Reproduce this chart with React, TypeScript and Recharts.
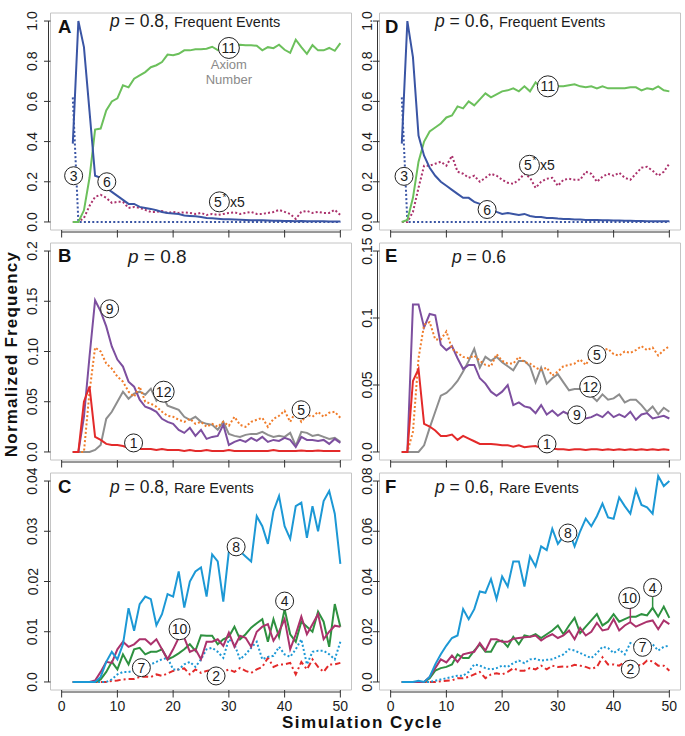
import React from "react"
import {
  LineChart,
  Line,
  XAxis,
  YAxis,
  ReferenceArea,
  ReferenceLine,
  ReferenceDot,
} from "recharts"

// simulation cycles on the x axis
const cycles = [
  2, 3, 4, 5, 6, 7, 8, 9, 10, 11, 12, 13, 14, 15, 16, 17, 18, 19, 20, 21, 22, 23, 24, 25, 26,
  27, 28, 29, 30, 31, 32, 33, 34, 35, 36, 37, 38, 39, 40, 41, 42, 43, 44, 45, 46, 47, 48, 49, 50,
]
const xTicks = [0, 10, 20, 30, 40, 50]

// panel A (p = 0.8, frequent events)
const a3 = [
  0.62, 0, 0, 0, 0, 0, 0, 0, 0, 0, 0, 0, 0, 0, 0, 0, 0, 0, 0, 0, 0, 0, 0, 0, 0,
  0, 0, 0, 0, 0, 0, 0, 0, 0, 0, 0, 0, 0, 0, 0, 0, 0, 0, 0, 0, 0, 0, 0, 0,
]
const a6 = [
  0.39, 1.0, 0.87, 0.55, 0.23, 0.22, 0.17, 0.15, 0.13, 0.11,
  0.09, 0.09, 0.075, 0.07, 0.065, 0.058, 0.05, 0.045, 0.042, 0.04,
  0.032, 0.03, 0.028, 0.025, 0.02, 0.018, 0.016, 0.014, 0.013, 0.012,
  0.011, 0.01, 0.009, 0.008, 0.008, 0.007, 0.006, 0.006, 0.005, 0.005,
  0.004, 0.005, 0.004, 0.003, 0.003, 0.003, 0.002, 0.002, 0.002,
]
const a11 = [
  0, 0, 0.058, 0.22, 0.46, 0.465, 0.555, 0.6, 0.615, 0.68,
  0.67, 0.713, 0.73, 0.746, 0.77, 0.78, 0.796, 0.833, 0.83, 0.837,
  0.854, 0.854, 0.86, 0.86, 0.862, 0.872, 0.855, 0.87, 0.875, 0.878,
  0.882, 0.88, 0.88, 0.877, 0.854, 0.87, 0.865, 0.882, 0.857, 0.842,
  0.907, 0.87, 0.837, 0.88, 0.854, 0.854, 0.866, 0.852, 0.89,
]
const a5 = [
  0, 0, 0.02, 0.08, 0.125, 0.135, 0.12, 0.095, 0.1, 0.1,
  0.07, 0.075, 0.07, 0.06, 0.05, 0.05, 0.055, 0.045, 0.05, 0.045,
  0.048, 0.045, 0.04, 0.045, 0.035, 0.04, 0.035, 0.04, 0.045, 0.048,
  0.04, 0.045, 0.05, 0.04, 0.04, 0.045, 0.05, 0.06, 0.05, 0.04,
  0.015, 0.05, 0.055, 0.045, 0.05, 0.045, 0.045, 0.06, 0.035,
]

// panel D (p = 0.6, frequent events)
const d3 = [
  0.62, 0, 0, 0, 0, 0, 0, 0, 0, 0, 0, 0, 0, 0, 0, 0, 0, 0, 0, 0, 0, 0, 0, 0, 0,
  0, 0, 0, 0, 0, 0, 0, 0, 0, 0, 0, 0, 0, 0, 0, 0, 0, 0, 0, 0, 0, 0, 0, 0,
]
const d6 = [
  0.39, 1.0, 0.82, 0.43, 0.33, 0.27, 0.23, 0.2, 0.18, 0.16,
  0.14, 0.12, 0.12, 0.1, 0.09, 0.075, 0.065, 0.05, 0.04, 0.045,
  0.04, 0.035, 0.04, 0.03, 0.025, 0.025, 0.02, 0.02, 0.017, 0.015,
  0.015, 0.012, 0.012, 0.01, 0.01, 0.01, 0.008, 0.008, 0.007, 0.007,
  0.006, 0.006, 0.005, 0.005, 0.004, 0.004, 0.004, 0.003, 0.003,
]
const d11 = [
  0, 0.01, 0.12, 0.3, 0.4, 0.45, 0.47, 0.49, 0.52, 0.53,
  0.575, 0.565, 0.6, 0.58, 0.61, 0.64, 0.62, 0.635, 0.65, 0.655,
  0.665, 0.65, 0.675, 0.65, 0.695, 0.665, 0.675, 0.675, 0.675, 0.675,
  0.68, 0.685, 0.675, 0.67, 0.675, 0.665, 0.675, 0.665, 0.665, 0.665,
  0.665, 0.67, 0.67, 0.655, 0.665, 0.66, 0.675, 0.655, 0.65,
]
const d5 = [
  0, 0, 0.05, 0.17, 0.28, 0.28, 0.29, 0.3, 0.28, 0.33,
  0.25, 0.24, 0.22, 0.23, 0.2, 0.22, 0.24, 0.23, 0.21, 0.195,
  0.19, 0.21, 0.24, 0.22, 0.17, 0.2, 0.215, 0.22, 0.18, 0.21,
  0.215, 0.21, 0.21, 0.25, 0.24, 0.2, 0.225, 0.24, 0.23, 0.245,
  0.22, 0.21, 0.24, 0.27, 0.275, 0.255, 0.23, 0.25, 0.29,
]

// panel B (p = 0.8)
const b1 = [
  0, 0, 0.05, 0.065, 0.015, 0.012, 0.008, 0.007, 0.007, 0.006,
  0.004, 0.004, 0.003, 0.003, 0.003, 0.002, 0.003, 0.002, 0.002, 0.002,
  0.001, 0.002, 0.001, 0.001, 0.002, 0.001, 0.001, 0.001, 0.002, 0.001,
  0.001, 0.001, 0.001, 0.001, 0.001, 0.001, 0.002, 0.001, 0.001, 0.001,
  0.001, 0.0015, 0.001, 0.001, 0.0015, 0.001, 0.001, 0.001, 0.001,
]
const b9 = [
  0, 0, 0.035, 0.095, 0.151, 0.14, 0.125, 0.105, 0.092, 0.085,
  0.07, 0.065, 0.052, 0.045, 0.043, 0.04, 0.033, 0.03, 0.028, 0.022,
  0.019, 0.024, 0.016, 0.022, 0.013, 0.015, 0.016, 0.027, 0.007, 0.01,
  0.012, 0.01, 0.014, 0.011, 0.015, 0.01, 0.012, 0.011, 0.014, 0.012,
  0.005, 0.015, 0.012, 0.012, 0.011, 0.012, 0.008, 0.013, 0.009,
]
const b12 = [
  0, 0, 0, 0, 0.002, 0.007, 0.033, 0.04, 0.05, 0.06,
  0.053, 0.058, 0.06, 0.057, 0.063, 0.051, 0.057, 0.046, 0.044, 0.042,
  0.035, 0.032, 0.035, 0.03, 0.028, 0.027, 0.022, 0.03, 0.018, 0.016,
  0.015, 0.017, 0.018, 0.018, 0.02, 0.017, 0.015, 0.016, 0.015, 0.019,
  0.006, 0.02, 0.019, 0.016, 0.017, 0.015, 0.013, 0.014, 0.01,
]
const b5 = [
  0, 0, 0, 0.06, 0.104, 0.1, 0.088, 0.083, 0.075, 0.07,
  0.06, 0.055, 0.065, 0.05, 0.048, 0.045, 0.04, 0.036, 0.035, 0.032,
  0.03, 0.033, 0.028, 0.03, 0.025, 0.028, 0.025, 0.03, 0.026, 0.035,
  0.027, 0.025, 0.03, 0.032, 0.034, 0.025, 0.033, 0.036, 0.041, 0.03,
  0.04, 0.03, 0.037, 0.035, 0.04, 0.035, 0.039, 0.04, 0.034,
]

// panel E (p = 0.6)
const e1 = [
  0, 0, 0.053, 0.062, 0.021, 0.019, 0.016, 0.012, 0.012, 0.013,
  0.009, 0.012, 0.01, 0.008, 0.006, 0.006, 0.006, 0.0055, 0.005, 0.005,
  0.004, 0.005, 0.0035, 0.004, 0.0045, 0.003, 0.003, 0.0025, 0.002, 0.002,
  0.0015, 0.002, 0.002, 0.0015, 0.002, 0.002, 0.0015, 0.002, 0.0015, 0.002,
  0.0015, 0.002, 0.0015, 0.002, 0.0015, 0.002, 0.0015, 0.002, 0.0015,
]
const e9 = [
  0, 0, 0.11, 0.11, 0.093, 0.103, 0.102, 0.08, 0.076, 0.079,
  0.07, 0.062, 0.065, 0.065, 0.055, 0.051, 0.045, 0.042, 0.045, 0.05,
  0.035, 0.037, 0.034, 0.033, 0.029, 0.035, 0.028, 0.031, 0.027, 0.03,
  0.028, 0.027, 0.026, 0.025, 0.026, 0.028, 0.026, 0.03, 0.026, 0.028,
  0.026, 0.03, 0.024, 0.028, 0.029, 0.025, 0.026, 0.027, 0.025,
]
const e12 = [
  0, 0, 0, 0, 0.005, 0.018, 0.03, 0.042, 0.044, 0.048,
  0.053, 0.06, 0.068, 0.077, 0.063, 0.071, 0.068, 0.071, 0.067, 0.064,
  0.061, 0.068, 0.068, 0.064, 0.052, 0.063, 0.051, 0.055, 0.058, 0.052,
  0.046, 0.047, 0.047, 0.045, 0.042, 0.038, 0.043, 0.039, 0.04, 0.043,
  0.037, 0.039, 0.039, 0.035, 0.03, 0.034, 0.028, 0.033, 0.03,
]
const e5 = [
  0, 0, 0.015, 0.07, 0.095, 0.097, 0.084, 0.084, 0.09, 0.077,
  0.074, 0.071, 0.07, 0.072, 0.068, 0.065, 0.064, 0.073, 0.068, 0.066,
  0.066, 0.071, 0.067, 0.066, 0.063, 0.061, 0.063, 0.057, 0.06, 0.064,
  0.065, 0.066, 0.069, 0.065, 0.072, 0.073, 0.076, 0.077, 0.073, 0.072,
  0.075, 0.074, 0.076, 0.079, 0.076, 0.078, 0.072, 0.076, 0.079,
]

// panel C (p = 0.8, rare events)
const c8 = [
  0, 0, 0, 0, 0, 0.001, 0.004, 0.006, 0.0045, 0.0075,
  0.0147, 0.0102, 0.0155, 0.017, 0.0165, 0.0113, 0.0135, 0.0175, 0.017, 0.022,
  0.0148, 0.02, 0.022, 0.0228, 0.017, 0.0254, 0.024, 0.016, 0.026, 0.027,
  0.026, 0.025, 0.024, 0.033, 0.031, 0.0275, 0.034, 0.037, 0.031, 0.0285,
  0.035, 0.0357, 0.0287, 0.035, 0.03, 0.036, 0.038, 0.0335, 0.0235,
]
const c4 = [
  0, 0, 0, 0, 0, 0.0005, 0.002, 0.004, 0.0025, 0.0055,
  0.0035, 0.0065, 0.0068, 0.0055, 0.006, 0.006, 0.0065, 0.0045, 0.005, 0.0057,
  0.0065, 0.0075, 0.0062, 0.0093, 0.0092, 0.0092, 0.0075, 0.0085, 0.009, 0.011,
  0.0085, 0.0095, 0.0108, 0.0117, 0.0125, 0.008, 0.0125, 0.009, 0.0145, 0.0095,
  0.008, 0.012, 0.011, 0.01, 0.014, 0.012, 0.007, 0.0155, 0.011,
]
const c10 = [
  0, 0, 0, 0, 0.0003, 0.002, 0.004, 0.0038, 0.0065, 0.008,
  0.007, 0.0075, 0.0085, 0.0085, 0.0075, 0.0085, 0.0065, 0.0045, 0.0065, 0.0088,
  0.0088, 0.006, 0.0065, 0.0045, 0.008, 0.008, 0.0085, 0.0072, 0.0098, 0.007,
  0.0092, 0.0088, 0.007, 0.01, 0.011, 0.0115, 0.0082, 0.01, 0.0125, 0.0065,
  0.0095, 0.013, 0.0095, 0.0115, 0.0135, 0.0085, 0.01, 0.0112, 0.011,
]
const c7 = [
  0, 0, 0, 0, 0, 0, 0, 0.0005, 0.0015, 0.002,
  0.002, 0.0022, 0.0025, 0.003, 0.0035, 0.004, 0.0045, 0.0048, 0.0025, 0.0025,
  0.0035, 0.004, 0.003, 0.0045, 0.0065, 0.0068, 0.006, 0.0048, 0.0085, 0.0075,
  0.0045, 0.0055, 0.0068, 0.008, 0.0045, 0.005, 0.0052, 0.007, 0.0055, 0.005,
  0.0065, 0.0085, 0.0035, 0.006, 0.0062, 0.0062, 0.0055, 0.0045, 0.008,
]
const c2 = [
  0, 0, 0, 0, 0, 0, 0, 0.0002, 0.0003, 0.0005,
  0.0006, 0.0006, 0.001, 0.0011, 0.001, 0.0015, 0.0012, 0.0017, 0.0022, 0.0025,
  0.0027, 0.0015, 0.0025, 0.0018, 0.0022, 0.0024, 0.002, 0.002, 0.0025, 0.002,
  0.0028, 0.0022, 0.0018, 0.0025, 0.003, 0.0048, 0.003, 0.0035, 0.0035, 0.0038,
  0.0015, 0.004, 0.0025, 0.0045, 0.003, 0.002, 0.0035, 0.0035, 0.0038,
]

// panel F (p = 0.6, rare events)
const f8 = [
  0, 0, 0, 0.0005, 0, 0.002, 0.007, 0.011, 0.0145, 0.0175,
  0.0185, 0.029, 0.025, 0.029, 0.036, 0.0355, 0.041, 0.033, 0.042, 0.038,
  0.048, 0.048, 0.038, 0.05, 0.046, 0.054, 0.0525, 0.061, 0.055, 0.058,
  0.06, 0.054, 0.06, 0.065, 0.062, 0.066, 0.071, 0.0655, 0.065, 0.0735,
  0.07, 0.067, 0.0765, 0.0705, 0.0695, 0.067, 0.082, 0.078, 0.08,
]
const f4 = [
  0, 0, 0, 0, 0, 0.0015, 0.0045, 0.0055, 0.006, 0.007,
  0.011, 0.0095, 0.0095, 0.0125, 0.015, 0.012, 0.012, 0.016, 0.0165, 0.014,
  0.018, 0.015, 0.0185, 0.018, 0.019, 0.0175, 0.019, 0.0205, 0.0225, 0.019,
  0.0225, 0.0255, 0.0195, 0.022, 0.0245, 0.027, 0.0225, 0.024, 0.027, 0.024,
  0.025, 0.026, 0.026, 0.027, 0.0265, 0.0295, 0.026, 0.03, 0.0255,
]
const f10 = [
  0, 0, 0, 0, 0, 0.002, 0.0055, 0.009, 0.0078, 0.0105,
  0.008, 0.011, 0.0115, 0.012, 0.0155, 0.0125, 0.017, 0.017, 0.016, 0.016,
  0.0172, 0.0175, 0.0178, 0.018, 0.0185, 0.0165, 0.018, 0.019, 0.0175, 0.0185,
  0.0205, 0.017, 0.0215, 0.0185, 0.02, 0.0235, 0.0205, 0.021, 0.025, 0.0205,
  0.0225, 0.0238, 0.022, 0.023, 0.024, 0.0245, 0.021, 0.0245, 0.023,
]
const f7 = [
  0, 0, 0, 0, 0, 0, 0.0005, 0.001, 0.0015, 0.002,
  0.0025, 0.0025, 0.004, 0.007, 0.0065, 0.0055, 0.005, 0.0055, 0.0065, 0.006,
  0.0075, 0.0085, 0.0075, 0.009, 0.0092, 0.0085, 0.0088, 0.009, 0.01, 0.011,
  0.013, 0.0125, 0.0115, 0.0105, 0.0095, 0.0115, 0.014, 0.0135, 0.0115, 0.013,
  0.011, 0.0155, 0.0145, 0.015, 0.016, 0.015, 0.0125, 0.014, 0.0145,
]
const f2 = [
  0, 0, 0, 0, 0, 0, 0, 0.0003, 0.0005, 0.0006,
  0.0015, 0.0015, 0.002, 0.003, 0.004, 0.0015, 0.003, 0.0035, 0.003, 0.004,
  0.0055, 0.0045, 0.0045, 0.0055, 0.005, 0.0065, 0.005, 0.0065, 0.006, 0.0062,
  0.006, 0.0068, 0.0065, 0.006, 0.0052, 0.006, 0.0098, 0.007, 0.007, 0.0065,
  0.008, 0.008, 0.007, 0.0065, 0.0085, 0.0082, 0.0065, 0.0065, 0.0045,
]

// y tick values and their printed labels
const freqTicks = [0, 0.2, 0.4, 0.6, 0.8, 1.0]
const freqLabels = ["0.0", "0.2", "0.4", "0.6", "0.8", "1.0"]
const bTicks = [0, 0.05, 0.1, 0.15, 0.2]
const bLabels = ["0.0", "0.05", "0.10", "0.15", "0.2"]
const eTicks = [0, 0.05, 0.1, 0.15]
const eLabels = ["0.0", "0.05", "0.1", "0.15"]
const cTicks = [0, 0.01, 0.02, 0.03, 0.04]
const cLabels = ["0.0", "0.01", "0.02", "0.03", "0.04"]
const fTicks = [0, 0.02, 0.04, 0.06, 0.08]
const fLabels = ["0.0", "0.02", "0.04", "0.06", "0.08"]

const BLUE = "#3a55a4"
const LIGHT_GREEN = "#6cc05c"
const MAROON = "#ab326c"
const RED = "#e32a2a"
const PURPLE = "#7d4f9f"
const GRAY = "#8e8e8e"
const ORANGE = "#f07c2a"
const SKY = "#1c98d5"
const DARK_GREEN = "#2e9140"
const DOT = "2 2.2"
const DASH_DOT = "6 3 2 3"

interface Series {
  id: string
  values: number[]
  color: string
  dash?: string
}

interface Note {
  x: number
  y: number
  text: string
  star?: boolean
  caption?: boolean
}

interface Leader {
  x: number
  y1: number
  y2: number
  color: string
}

interface PanelDef {
  id: string
  col: number
  row: number
  yDomain: [number, number]
  yTicks: number[]
  yLabels: string[]
  series: Series[]
  notes: Note[]
  leaders?: Leader[]
}

const panels: PanelDef[] = [
  {
    id: "A", col: 0, row: 0, yDomain: [-0.04, 1.04], yTicks: freqTicks, yLabels: freqLabels,
    series: [
      { id: "5", values: a5, color: MAROON, dash: DOT },
      { id: "3", values: a3, color: BLUE, dash: DOT },
      { id: "11", values: a11, color: LIGHT_GREEN },
      { id: "6", values: a6, color: BLUE },
    ],
    notes: [
      { x: 2.15, y: 0.23, text: "3" },
      { x: 8.1, y: 0.2, text: "6" },
      { x: 30, y: 0.866, text: "11", caption: true },
      { x: 28.3, y: 0.1, text: "5", star: true },
    ],
  },
  {
    id: "D", col: 1, row: 0, yDomain: [-0.04, 1.04], yTicks: freqTicks, yLabels: freqLabels,
    series: [
      { id: "5", values: d5, color: MAROON, dash: DOT },
      { id: "3", values: d3, color: BLUE, dash: DOT },
      { id: "11", values: d11, color: LIGHT_GREEN },
      { id: "6", values: d6, color: BLUE },
    ],
    notes: [
      { x: 2.4, y: 0.227, text: "3" },
      { x: 17.3, y: 0.062, text: "6" },
      { x: 28.2, y: 0.675, text: "11" },
      { x: 24.9, y: 0.282, text: "5", star: true },
    ],
  },
  {
    id: "B", col: 0, row: 1, yDomain: [-0.008, 0.208], yTicks: bTicks, yLabels: bLabels,
    series: [
      { id: "12", values: b12, color: GRAY },
      { id: "9", values: b9, color: PURPLE },
      { id: "5", values: b5, color: ORANGE, dash: DOT },
      { id: "1", values: b1, color: RED },
    ],
    notes: [
      { x: 8.6, y: 0.1425, text: "9" },
      { x: 18.3, y: 0.06, text: "12" },
      { x: 12.9, y: 0.009, text: "1" },
      { x: 42.95, y: 0.042, text: "5" },
    ],
  },
  {
    id: "E", col: 1, row: 1, yDomain: [-0.006, 0.156], yTicks: eTicks, yLabels: eLabels,
    series: [
      { id: "12", values: e12, color: GRAY },
      { id: "9", values: e9, color: PURPLE },
      { id: "5", values: e5, color: ORANGE, dash: DOT },
      { id: "1", values: e1, color: RED },
    ],
    notes: [
      { x: 37.0, y: 0.0727, text: "5" },
      { x: 35.8, y: 0.0487, text: "12" },
      { x: 33.4, y: 0.0277, text: "9" },
      { x: 28.05, y: 0.006, text: "1" },
    ],
  },
  {
    id: "C", col: 0, row: 2, yDomain: [-0.0016, 0.0416], yTicks: cTicks, yLabels: cLabels,
    series: [
      { id: "2", values: c2, color: RED, dash: DASH_DOT },
      { id: "7", values: c7, color: SKY, dash: DOT },
      { id: "4", values: c4, color: DARK_GREEN },
      { id: "10", values: c10, color: MAROON },
      { id: "8", values: c8, color: SKY },
    ],
    notes: [
      { x: 31.3, y: 0.0269, text: "8" },
      { x: 40, y: 0.0161, text: "4" },
      { x: 21.15, y: 0.0105, text: "10" },
      { x: 14.3, y: 0.00285, text: "7" },
      { x: 27.7, y: 0.0012, text: "2" },
    ],
  },
  {
    id: "F", col: 1, row: 2, yDomain: [-0.0032, 0.0832], yTicks: fTicks, yLabels: fLabels,
    series: [
      { id: "2", values: f2, color: RED, dash: DASH_DOT },
      { id: "7", values: f7, color: SKY, dash: DOT },
      { id: "4", values: f4, color: DARK_GREEN },
      { id: "10", values: f10, color: MAROON },
      { id: "8", values: f8, color: SKY },
    ],
    notes: [
      { x: 31.8, y: 0.0593, text: "8" },
      { x: 42.8, y: 0.0334, text: "10" },
      { x: 47.0, y: 0.0376, text: "4" },
      { x: 45.2, y: 0.0138, text: "7" },
      { x: 43.0, y: 0.0051, text: "2" },
    ],
    leaders: [
      { x: 43, y1: 0.0296, y2: 0.0238, color: MAROON },
      { x: 47, y1: 0.0338, y2: 0.0295, color: DARK_GREEN },
    ],
  },
]

const titles = [
  { x: 110, y: 27, size: 17.5, p: "0.8", sub: "Frequent Events" },
  { x: 435, y: 27, size: 17.5, p: "0.6", sub: "Frequent Events" },
  { x: 128, y: 263, size: 19, p: "0.8", sub: "" },
  { x: 452, y: 263, size: 17.5, p: "0.6", sub: "" },
  { x: 110, y: 493, size: 17.5, p: "0.8", sub: "Rare Events" },
  { x: 435, y: 493, size: 17.5, p: "0.6", sub: "Rare Events" },
]

const letters = [
  { t: "A", x: 58, y: 33 },
  { t: "D", x: 385, y: 33 },
  { t: "B", x: 58, y: 262 },
  { t: "E", x: 385, y: 262 },
  { t: "C", x: 58, y: 493 },
  { t: "F", x: 385, y: 493 },
]

// layout of the plot boxes (half pixels keep the 1px box crisp)
const BOX_W = 301
const BOX_H = 217
const colLeft = [50.5, 379.5]
const rowTop = [12.5, 242.5, 472.5]
const yAxisW = [50.5, 27.5]
const yTickMargin = [6.5, 1]
const TOP_PAD = 14
const X_MIN = -2
const X_MAX = 52
const PX_X = (X_MAX - X_MIN) / BOX_W

const FONT = "'Liberation Sans', Arial, Helvetica, sans-serif"
const INK = "#1c1c1c"

const toPts = (ys: number[]) => cycles.map((x, i) => ({ x, y: ys[i] }))

const makeYTick = (ticks: number[], labels: string[]) => (props: any) => {
  const { x, y, payload } = props
  const i = ticks.findIndex(t => Math.abs(t - payload.value) < 1e-9)
  return (
    <text
      x={x}
      y={y}
      transform={`rotate(-90 ${x} ${y})`}
      textAnchor="middle"
      fontSize={14}
      fill={INK}
    >
      {i >= 0 ? labels[i] : ""}
    </text>
  )
}

const makeXTick = (show: boolean) => (props: any) => {
  const { x, y, payload } = props
  if (!show) return <g />
  return (
    <text x={x} y={y} dy={10} textAnchor="middle" fontSize={14} fill={INK}>
      {payload.value}
    </text>
  )
}

function Bubble({ cx, cy, note }: { cx: number; cy: number; note: Note }) {
  const r = note.star ? 10 : note.text.length > 1 ? 10.5 : 9
  return (
    <g>
      <circle cx={cx} cy={cy} r={r} fill="#fff" stroke="#222" strokeWidth={1} />
      {note.star ? (
        <>
          <text x={cx - 1.5} y={cy} dy="0.36em" textAnchor="middle" fontSize={14} fill={INK}>
            {note.text}
          </text>
          <text x={cx + 5} y={cy - 1} textAnchor="middle" fontSize={10} fill={INK}>
            *
          </text>
          <text x={cx + r + 0.5} y={cy} dy="0.36em" fontSize={14} fill={INK}>
            x5
          </text>
        </>
      ) : (
        <text x={cx} y={cy} dy="0.36em" textAnchor="middle" fontSize={14} fill={INK}>
          {note.text}
        </text>
      )}
      {note.caption && (
        <>
          <text x={cx} y={cy + 21.5} textAnchor="middle" fontSize={13} fill="#8a8a8a">
            Axiom
          </text>
          <text x={cx} y={cy + 36} textAnchor="middle" fontSize={13} fill="#8a8a8a">
            Number
          </text>
        </>
      )}
    </g>
  )
}

function Panel({ p }: { p: PanelDef }) {
  const yW = yAxisW[p.col]
  const xH = p.row === 2 ? 30 : 10
  const width = yW + BOX_W + 3
  const height = TOP_PAD + BOX_H + xH
  const [y0, y1] = p.yDomain
  const pxY = (y1 - y0) / BOX_H
  const axisX = X_MIN - 2 * PX_X
  const axisY = y0 - 2 * pxY

  return (
    <div style={{ position: "absolute", left: colLeft[p.col] - yW, top: rowTop[p.row] - TOP_PAD }}>
      <LineChart
        width={width}
        height={height}
        margin={{ top: TOP_PAD, right: 3, bottom: 0, left: 0 }}
      >
        <XAxis
          type="number"
          dataKey="x"
          domain={[X_MIN, X_MAX]}
          ticks={xTicks}
          interval={0}
          allowDataOverflow
          height={xH}
          tickSize={7.5}
          tickMargin={3}
          axisLine={false}
          tickLine={{ stroke: "#333" }}
          tick={makeXTick(p.row === 2)}
        />
        <YAxis
          type="number"
          dataKey="y"
          domain={[y0, y1]}
          ticks={p.yTicks}
          interval={0}
          allowDataOverflow
          width={yW}
          tickSize={6.5}
          tickMargin={yTickMargin[p.col]}
          axisLine={false}
          tickLine={{ stroke: "#333" }}
          tick={makeYTick(p.yTicks, p.yLabels)}
        />
        <ReferenceArea
          x1={X_MIN}
          x2={X_MAX}
          y1={y0}
          y2={y1}
          fill="none"
          stroke="#c4c4c4"
          strokeWidth={1}
          ifOverflow="visible"
        />
        <ReferenceLine
          segment={[
            { x: axisX, y: p.yTicks[0] },
            { x: axisX, y: p.yTicks[p.yTicks.length - 1] },
          ]}
          stroke="#333"
          ifOverflow="visible"
        />
        <ReferenceLine
          segment={[
            { x: xTicks[0], y: axisY },
            { x: xTicks[xTicks.length - 1], y: axisY },
          ]}
          stroke="#333"
          ifOverflow="visible"
        />
        {p.series.map(s => (
          <Line
            key={s.id}
            name={s.id}
            data={toPts(s.values)}
            dataKey="y"
            type="linear"
            stroke={s.color}
            strokeWidth={2}
            strokeDasharray={s.dash}
            dot={false}
            activeDot={false}
            legendType="none"
            isAnimationActive={false}
          />
        ))}
        {(p.leaders || []).map((l, i) => (
          <ReferenceLine
            key={`lead${i}`}
            segment={[
              { x: l.x, y: l.y1 },
              { x: l.x, y: l.y2 },
            ]}
            stroke={l.color}
            strokeWidth={1.5}
            ifOverflow="visible"
          />
        ))}
        {p.notes.map((n, i) => (
          <ReferenceDot
            key={`note${i}`}
            x={n.x}
            y={n.y}
            r={9}
            ifOverflow="visible"
            shape={(props: any) => <Bubble cx={props.cx} cy={props.cy} note={n} />}
          />
        ))}
      </LineChart>
    </div>
  )
}

export default function App() {
  return (
    <div
      style={{
        position: "absolute",
        left: 0,
        top: 0,
        width: 685,
        height: 736,
        background: "#fff",
        fontFamily: FONT,
        overflow: "hidden",
      }}
    >
      {panels.map(p => (
        <Panel key={p.id} p={p} />
      ))}
      <svg
        width={685}
        height={736}
        style={{ position: "absolute", left: 0, top: 0, pointerEvents: "none" }}
        fontFamily={FONT}
      >
        {letters.map(l => (
          <text key={l.t} x={l.x} y={l.y} fontSize={18.5} fontWeight="bold" fill="#111">
            {l.t}
          </text>
        ))}
        {titles.map((t, i) => (
          <text key={i} x={t.x} y={t.y} fontSize={t.size} fill={INK}>
            <tspan fontStyle="italic">p</tspan>
            <tspan>{` = ${t.p}${t.sub ? "," : ""}`}</tspan>
            {t.sub && (
              <tspan dx={5} fontSize={14.5}>
                {t.sub}
              </tspan>
            )}
          </text>
        ))}
        <text
          transform="translate(17 354) rotate(-90)"
          textAnchor="middle"
          fontSize={17}
          fontWeight="bold"
          letterSpacing={1.2}
          fill="#111"
        >
          Normalized Frequency
        </text>
        <text
          x={362.5}
          y={728}
          textAnchor="middle"
          fontSize={17}
          fontWeight="bold"
          letterSpacing={1.5}
          fill="#111"
        >
          Simulation Cycle
        </text>
      </svg>
    </div>
  )
}
